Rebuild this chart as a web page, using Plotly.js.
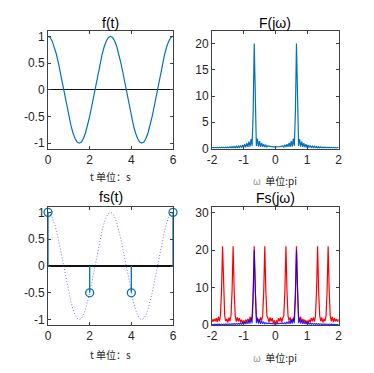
<!DOCTYPE html>
<html>
<head>
<meta charset="utf-8">
<script src="https://cdn.plot.ly/plotly-3.0.1.min.js"></script>
<style>html,body{margin:0;padding:0;background:#fff;}#plot{width:374px;height:373px;}</style>
</head>
<body>
<div id="plot"></div>
<script>
// ---- data ----
// f(t) sampled every 0.1 s from t = 0 to 6
var tStart = 0, tStep = 0.1;
var fValues = [1,0.978,0.914,0.809,0.669,0.5,0.309,0.105,-0.105,-0.309,
  -0.5,-0.669,-0.809,-0.914,-0.978,-1,-0.978,-0.914,-0.809,-0.669,
  -0.5,-0.309,-0.105,0.105,0.309,0.5,0.669,0.809,0.914,0.978,
  1,0.978,0.914,0.809,0.669,0.5,0.309,0.105,-0.105,-0.309,
  -0.5,-0.669,-0.809,-0.914,-0.978,-1,-0.978,-0.914,-0.809,-0.669,
  -0.5,-0.309,-0.105,0.105,0.309,0.5,0.669,0.809,0.914,0.978,1];
// samples of fs(t)
var sampleTimes = [0, 2, 4, 6];
var sampleValues = [1, -0.5, -0.5, 1];
// spectra, w in units of pi, from -2 to 2 every 1/30
var wStart = -2, wStep = 1/30;
var FMag = [0.09,0.19,0.09,0.20,0.10,0.21,0.10,0.22,0.10,0.24,0.11,0.25,0.11,0.27,0.12,0.29,0.12,0.31,0.13,0.34,
  0.14,0.38,0.15,0.42,0.16,0.48,0.18,0.55,0.20,0.65,0.20,0.80,0.25,1.00,0.30,1.30,0.35,1.80,0.50,7.00,
  20.0,7.00,0.50,1.90,0.35,1.40,0.30,1.05,0.35,0.80,0.30,0.62,0.30,0.50,0.44,0.40,0.36,0.34,0.32,0.31,
  0.30,
  0.31,0.32,0.34,0.36,0.40,0.44,0.50,0.30,0.62,0.30,0.80,0.35,1.05,0.30,1.40,0.35,1.90,0.50,7.00,20.0,
  7.00,0.50,1.80,0.35,1.30,0.30,1.00,0.25,0.80,0.20,0.65,0.20,0.55,0.18,0.48,0.16,0.42,0.15,0.38,0.14,
  0.34,0.13,0.31,0.12,0.29,0.12,0.27,0.11,0.25,0.11,0.24,0.10,0.22,0.10,0.21,0.10,0.20,0.09,0.19,0.09];
var FsMag = [1.5,0.9,1.6,1.0,1.8,0.8,2.2,1.0,2.5,9.0,21,9.0,2.5,1.0,1.6,0.7,2.0,1.0,2.5,9.0,
  21,9.0,2.5,0.9,2.0,1.0,1.8,0.8,1.4,0.4,1.2,0.5,1.4,1.0,1.6,0.8,2.2,1.0,2.5,9.0,
  21,9.0,2.5,1.0,1.6,0.8,2.0,1.2,2.5,9.0,21,9.0,2.5,1.8,0.8,2.0,1.0,1.8,0.6,1.2,
  0.0,
  1.2,0.6,1.8,1.0,2.0,0.8,1.8,2.5,9.0,21,9.0,2.5,1.2,2.0,0.8,1.6,1.0,2.5,9.0,21,
  9.0,2.5,1.0,2.2,0.8,1.6,1.0,1.4,0.5,1.2,0.4,1.4,0.8,1.8,1.0,2.0,0.9,2.5,9.0,21,
  9.0,2.5,1.0,2.0,0.7,1.6,1.0,2.5,9.0,21,9.0,2.5,1.0,2.2,0.8,1.8,1.0,1.6,0.9,1.5];
var tTicks = [0, 2, 4, 6];
var fTicks = [-1, -0.5, 0, 0.5, 1];
var fTickText = ['-1', '-0.5', '0', '0.5', '1'];
var wTicks = [-2, -1, 0, 1, 2];
var wTickText = ['-2', '-1', '0', '1', '2'];
var FTicks = [0, 5, 10, 15, 20];
var FsTicks = [0, 10, 20, 30];
var titles = ['f(t)', 'F(j\u03c9)', 'fs(t)', 'Fs(j\u03c9)'];
var tLabel = 't 单位：s';
var wLabel = '<span style="color:#9a9a9a">\u03c9</span>  单位:pi';

// ---- build stems from sample arrays ----
var stemX = [], stemY = [];
for (var i = 0; i < sampleTimes.length; i++) {
  stemX.push(sampleTimes[i], sampleTimes[i], null);
  stemY.push(0, sampleValues[i], null);
}

var mBlue = '#0072BD';
var traces = [
  {x0: tStart, dx: tStep, y: fValues, type: 'scatter', mode: 'lines', xaxis: 'x', yaxis: 'y',
   line: {color: mBlue, width: 1.2}, hoverinfo: 'skip'},
  {x0: wStart, dx: wStep, y: FMag, type: 'scatter', mode: 'lines', xaxis: 'x2', yaxis: 'y2',
   line: {color: mBlue, width: 1.2}, hoverinfo: 'skip'},
  {x0: tStart, dx: tStep, y: fValues, type: 'scatter', mode: 'lines', xaxis: 'x3', yaxis: 'y3',
   line: {color: '#3a3aff', width: 1, dash: '1px,2px'}, opacity: 0.7, hoverinfo: 'skip'},
  {x: stemX, y: stemY, type: 'scatter', mode: 'lines', xaxis: 'x3', yaxis: 'y3',
   line: {color: mBlue, width: 1.3}, hoverinfo: 'skip', cliponaxis: false},
  {x: sampleTimes, y: sampleValues, type: 'scatter', mode: 'markers', xaxis: 'x3', yaxis: 'y3',
   marker: {symbol: 'circle-open', size: 8, color: mBlue, line: {width: 1.3}}, cliponaxis: false, hoverinfo: 'skip'},
  {x0: wStart, dx: wStep, y: FsMag, type: 'scatter', mode: 'lines', xaxis: 'x4', yaxis: 'y4',
   line: {color: '#FF0000', width: 1.2}, hoverinfo: 'skip'},
  {x0: wStart, dx: wStep, y: FMag, type: 'scatter', mode: 'lines', xaxis: 'x4', yaxis: 'y4',
   line: {color: '#0000FF', width: 1.1}, opacity: 0.85, hoverinfo: 'skip'}
];

var tickFont = {family: '"Liberation Sans Narrow", "Liberation Sans", sans-serif', size: 12, color: '#262626'};
function ax(extra) {
  var a = {showline: true, linecolor: '#404040', linewidth: 1, mirror: 'ticks', ticks: 'inside',
    ticklen: 3, tickcolor: '#404040', showgrid: false, zeroline: false, tickfont: tickFont,
    fixedrange: true};
  for (var k in extra) a[k] = extra[k];
  return a;
}
var W = 374, H = 373;
var xL = [48/W, 173/W], xR = [212/W, 338.7/W];
var yT = [(H-148.5)/H, (H-31)/H], yB = [(H-325)/H, (H-207)/H];

var layout = {
  width: W, height: H, autosize: false,
  margin: {l: 0, r: 0, t: 0, b: 0},
  paper_bgcolor: '#fff', plot_bgcolor: '#fff', showlegend: false,
  xaxis: ax({domain: xL, anchor: 'y', range: [0, 6], tickvals: tTicks, ticktext: tTicks.map(String)}),
  yaxis: ax({domain: yT, anchor: 'x', range: [-1.1, 1.1], tickvals: fTicks, ticktext: fTickText,
    zeroline: true, zerolinecolor: '#111', zerolinewidth: 1.2}),
  xaxis2: ax({domain: xR, anchor: 'y2', range: [-2, 2], tickvals: wTicks, ticktext: wTickText}),
  yaxis2: ax({domain: yT, anchor: 'x2', range: [0, 22.4], tickvals: FTicks, ticktext: FTicks.map(String)}),
  xaxis3: ax({domain: xL, anchor: 'y3', range: [0, 6], tickvals: tTicks, ticktext: tTicks.map(String)}),
  yaxis3: ax({domain: yB, anchor: 'x3', range: [-1.1, 1.1], tickvals: fTicks, ticktext: fTickText,
    zeroline: true, zerolinecolor: '#111', zerolinewidth: 1.2}),
  xaxis4: ax({domain: xR, anchor: 'y4', range: [-2, 2], tickvals: wTicks, ticktext: wTickText}),
  yaxis4: ax({domain: yB, anchor: 'x4', range: [0, 31.5], tickvals: FsTicks, ticktext: FsTicks.map(String)}),
  annotations: []
};
var titleFont = {family: '"Liberation Sans Narrow", "Liberation Sans", sans-serif', size: 14, color: '#000'};
var labFont = {family: '"Noto Sans CJK SC", sans-serif', size: 10, color: '#262626'};
var cx = [(xL[0]+xL[1])/2, (xR[0]+xR[1])/2];
var titleY = [1 - 22.5/H, 1 - 22.5/H, 1 - 197/H, 1 - 198/H];
var labY = [1 - 176/H, 1 - 180/H, 1 - 354/H, 1 - 357/H];
var labText = [tLabel, wLabel, tLabel, wLabel];
for (var j = 0; j < 4; j++) {
  layout.annotations.push({text: titles[j], xref: 'paper', yref: 'paper', x: cx[j % 2], y: titleY[j],
    xanchor: 'center', yanchor: 'middle', showarrow: false, font: titleFont});
  layout.annotations.push({text: labText[j], xref: 'paper', yref: 'paper', x: cx[j % 2], y: labY[j],
    xanchor: 'center', yanchor: 'middle', showarrow: false, font: labFont});
}
Plotly.newPlot('plot', traces, layout, {staticPlot: true, displayModeBar: false});
</script>
</body>
</html>
